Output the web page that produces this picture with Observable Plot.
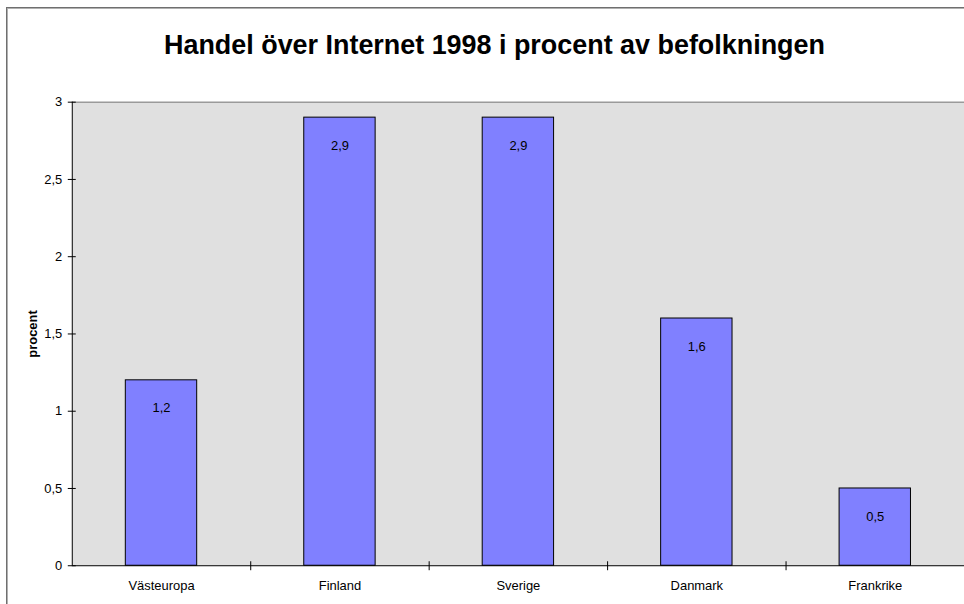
<!DOCTYPE html>
<html>
<head>
<meta charset="utf-8">
<script src="https://cdn.jsdelivr.net/npm/d3@7"></script>
<script src="https://cdn.jsdelivr.net/npm/@observablehq/plot@0.6"></script>
<style>
  html, body { margin: 0; padding: 0; background: #fff; overflow: hidden; width: 964px; height: 604px; }
  #wrap { position: relative; width: 964px; height: 604px; }
  #border { position: absolute; left: 6px; top: 7px; width: 1200px; height: 1200px; border: 1px solid #6f6f6f; box-shadow: 1px 1px 0 #b0b0b0 inset; }
  #chart { position: absolute; left: 0; top: 0; }
</style>
</head>
<body>
<div id="wrap"><div id="border"></div><div id="chart"></div></div>
<script>
const categories = ["Västeuropa", "Finland", "Sverige", "Danmark", "Frankrike"];
const values = [1.2, 2.9, 2.9, 1.6, 0.5];
const yTicks = [0, 0.5, 1, 1.5, 2, 2.5, 3];
const title = "Handel över Internet 1998 i procent av befolkningen";
const yLabel = "procent";

const fmt = v => String(v).replace(".", ",");
const data = categories.map((c, i) => ({ i, cat: c, value: values[i] }));
const boundaries = categories.slice(1).map((c, i) => i + 0.5);
const centers = categories.map((c, i) => i);
const font = "'Liberation Sans', Arial, Helvetica, sans-serif";

const chart = Plot.plot({
  width: 967,
  height: 604,
  marginLeft: 72,
  marginRight: 0,
  marginTop: 102,
  marginBottom: 37,
  style: { fontFamily: font, fontSize: "13px", background: "transparent", color: "#000", overflow: "visible" },
  x: { domain: [-0.5, categories.length - 0.5], axis: null },
  y: { domain: [0, 3], axis: null },
  marks: [
    Plot.frame({ fill: "#e0e0e0", stroke: null }),
    Plot.ruleY([3], { stroke: "#9a9a9a", strokeWidth: 1.5 }),
    Plot.rectY(data, {
      x1: d => d.i - 0.2, x2: d => d.i + 0.2, y1: 0, y2: "value",
      fill: "#8080ff", stroke: "#000", strokeWidth: 1
    }),
    Plot.text(data, { x: "i", y: "value", text: d => fmt(d.value), dy: 28, fontSize: 13, fill: "#000" }),
    Plot.ruleX([-0.5], { stroke: "#000", strokeWidth: 1 }),
    Plot.ruleY([0], { stroke: "#000", strokeWidth: 1 }),
    Plot.axisY({ ticks: yTicks, tickSize: 8, dx: 4, tickFormat: () => "", label: null, stroke: "#000" }),
    Plot.axisY({ ticks: yTicks, tickSize: 0, tickPadding: 10, tickFormat: fmt, label: null, fill: "#000", fontSize: 13 }),
    Plot.axisX({ ticks: boundaries, tickSize: 9, dy: -4, tickFormat: () => "", label: null, stroke: "#000" }),
    Plot.axisX({ ticks: centers, tickSize: 0, tickPadding: 15, tickFormat: i => categories[i], label: null, fill: "#000", fontSize: 13 }),
    Plot.text([yLabel], { frameAnchor: "left", textAnchor: "middle", rotate: -90, dx: -40, fontWeight: "bold", fontSize: 13, fill: "#000" }),
    Plot.text([title], { frameAnchor: "top", lineAnchor: "middle", dy: -57, dx: -24, fontWeight: "bold", fontSize: 27, fill: "#000" })
  ]
});
document.getElementById("chart").appendChild(chart);
</script>
</body>
</html>
